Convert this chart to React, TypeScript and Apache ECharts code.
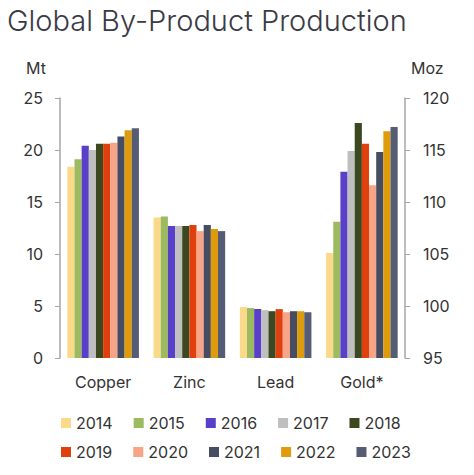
import { useEffect, useRef } from "react";
import * as echarts from "echarts";

const categories = ["Copper", "Zinc", "Lead", "Gold*"];
const years = ["2014", "2015", "2016", "2017", "2018", "2019", "2020", "2021", "2022", "2023"];
const colors = ["#FAD98A", "#9BBB5E", "#5A40C8", "#BFBFBF", "#3B4820", "#E03F0E", "#F8A486", "#464C62", "#DE9C0C", "#555C74"];

// Mt, per year: copper, zinc, lead
const copper = [18.4, 19.1, 20.4, 20.0, 20.6, 20.6, 20.7, 21.3, 21.9, 22.1];
const zinc = [13.5, 13.6, 12.7, 12.7, 12.7, 12.8, 12.2, 12.8, 12.4, 12.2];
const lead = [4.9, 4.8, 4.7, 4.6, 4.5, 4.7, 4.4, 4.5, 4.5, 4.4];
// Moz
const gold = [105.1, 108.1, 112.9, 114.9, 117.6, 115.6, 111.6, 114.8, 116.8, 117.2];

const FONT = "Inter, 'Noto Sans', sans-serif";

export default function App() {
  const ref = useRef<HTMLDivElement | null>(null);

  useEffect(() => {
    if (!ref.current) return;
    const chart = echarts.init(ref.current, null, { renderer: "svg" });

    const baseSeries = years.map((y, i) => ({
      name: y,
      type: "bar",
      xAxisIndex: 0,
      yAxisIndex: 0,
      barGap: "0%",
      barCategoryGap: "17%",
      itemStyle: { color: colors[i] },
      data: [copper[i], zinc[i], lead[i], "-"],
    }));
    const goldSeries = years.map((y, i) => ({
      name: y,
      type: "bar",
      xAxisIndex: 1,
      yAxisIndex: 1,
      barGap: "0%",
      barCategoryGap: "17%",
      itemStyle: { color: colors[i] },
      data: ["-", "-", "-", gold[i]],
    }));

    const legendCommon = {
      left: 56,
      itemWidth: 10,
      itemHeight: 10,
      itemGap: 21,
      itemStyle: { borderWidth: 0 },
      textStyle: { fontFamily: FONT, fontSize: 16, color: "#333" },
      icon: "rect",
      selectedMode: false,
    };

    chart.setOption({
      animation: false,
      textStyle: { fontFamily: FONT },
      title: {
        text: "Global By-Product Production",
        left: 2,
        top: 1,
        textStyle: { fontFamily: FONT, fontSize: 29, fontWeight: 300, color: "#3a3a44" },
      },
      legend: [
        { ...legendCommon, top: 410, data: years.slice(0, 5) },
        { ...legendCommon, top: 439, data: years.slice(5) },
      ],
      grid: { left: 60, right: 69, top: 98, bottom: 117 },
      xAxis: [
        {
          type: "category",
          data: categories,
          axisLine: { show: false },
          axisTick: { show: false },
          axisLabel: { fontFamily: FONT, fontSize: 16, color: "#333", margin: 16 },
        },
        { type: "category", data: categories, show: false },
      ],
      yAxis: [
        {
          type: "value",
          min: 0,
          max: 25,
          interval: 5,
          name: "Mt",
          nameLocation: "end",
          nameGap: 22,
          nameTextStyle: { fontFamily: FONT, fontSize: 16, color: "#333", align: "right", padding: [0, 14, 0, 0] },
          splitLine: { show: false },
          axisLine: { show: true, lineStyle: { color: "#a6a6a6", width: 1.5 } },
          axisTick: { show: true, length: 5, lineStyle: { color: "#a6a6a6" } },
          axisLabel: { fontFamily: FONT, fontSize: 16, color: "#333", margin: 17 },
        },
        {
          type: "value",
          position: "right",
          min: 95,
          max: 120,
          interval: 5,
          name: "Moz",
          nameLocation: "end",
          nameGap: 22,
          nameTextStyle: { fontFamily: FONT, fontSize: 16, color: "#333", align: "left", padding: [0, 0, 0, 6] },
          splitLine: { show: false },
          axisLine: { show: true, lineStyle: { color: "#a6a6a6", width: 1.5 } },
          axisTick: { show: true, length: 5, lineStyle: { color: "#a6a6a6" } },
          axisLabel: { fontFamily: FONT, fontSize: 16, color: "#333", margin: 18 },
        },
      ],
      series: [...baseSeries, ...goldSeries],
    });

    return () => chart.dispose();
  }, []);

  return <div ref={ref} style={{ width: 474, height: 475, margin: -8 }} />;
}
